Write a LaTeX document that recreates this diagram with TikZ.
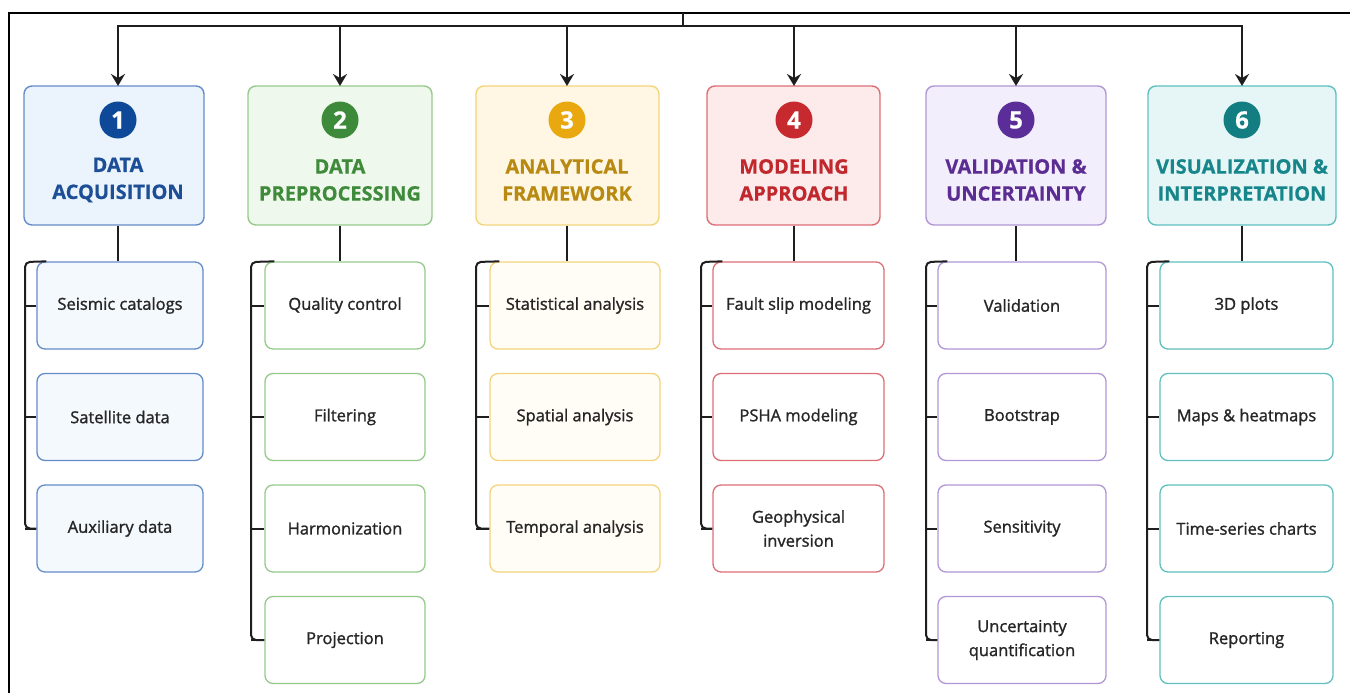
\documentclass[tikz,border=0pt]{standalone}
\usepackage{fontspec}
\setmainfont{Open Sans}[BoldFeatures={FakeBold=0.6}]
\newfontfamily\itemfont[FakeBold=1.3]{Open Sans}
\definecolor{ink1}{RGB}{14,72,152}
\definecolor{title1}{RGB}{29,79,150}
\definecolor{edge1}{RGB}{100,140,200}
\definecolor{tint1}{RGB}{235,243,252}
\definecolor{paper1}{RGB}{244,249,254}
\definecolor{ink2}{RGB}{60,138,58}
\definecolor{title2}{RGB}{63,139,59}
\definecolor{edge2}{RGB}{150,202,140}
\definecolor{tint2}{RGB}{238,248,236}
\definecolor{paper2}{RGB}{255,255,255}
\definecolor{ink3}{RGB}{233,168,15}
\definecolor{title3}{RGB}{185,138,18}
\definecolor{edge3}{RGB}{243,212,124}
\definecolor{tint3}{RGB}{255,247,228}
\definecolor{paper3}{RGB}{255,253,246}
\definecolor{ink4}{RGB}{198,42,47}
\definecolor{title4}{RGB}{192,40,45}
\definecolor{edge4}{RGB}{220,110,118}
\definecolor{tint4}{RGB}{253,235,236}
\definecolor{paper4}{RGB}{255,255,255}
\definecolor{ink5}{RGB}{90,45,152}
\definecolor{title5}{RGB}{91,44,145}
\definecolor{edge5}{RGB}{176,150,212}
\definecolor{tint5}{RGB}{243,238,251}
\definecolor{paper5}{RGB}{255,255,255}
\definecolor{ink6}{RGB}{19,126,130}
\definecolor{title6}{RGB}{23,134,139}
\definecolor{edge6}{RGB}{96,192,192}
\definecolor{tint6}{RGB}{230,246,246}
\definecolor{paper6}{RGB}{255,255,255}
\definecolor{wire}{RGB}{30,30,30}
\usetikzlibrary{arrows.meta,positioning,calc}

\begin{document}
\begin{tikzpicture}[x=1pt, y=-1pt,
    headbox/.style={draw, rounded corners=8pt, line width=1.4pt, minimum height=139pt},
    itembox/.style={draw, rounded corners=8pt, line width=1.3pt, minimum height=87pt, align=center,
        text=black!85, font=\itemfont\fontsize{16.5}{24}\selectfont},
    badge/.style={circle, minimum size=37pt, inner sep=0pt, text=white, font=\fontsize{24}{24}\selectfont\bfseries},
    headtitle/.style={align=center, font=\fontsize{20}{27}\selectfont\bfseries},
    link/.style={line width=2pt, draw=wire}]
    \useasboundingbox (0,0) rectangle (1350,693);
    % frame
    \draw[line width=2pt] (9,693) -- (9,13) -- (1350,13);
    \coordinate (root) at (683,13);
    \coordinate (hub) at (683,26);
    \draw[link] (root) -- (hub);
    % columns
    \foreach \i/\cx/\hl/\hr/\ttl/\n/\sl/\sr/\bx/\items in {
        1/118/24/204/{DATA\\ACQUISITION}/3/37/203/25/{Seismic catalogs,Satellite data,Auxiliary data},
        2/340/248/432/{DATA\\PREPROCESSING}/4/265/425/251/{Quality control,Filtering,Harmonization,Projection},
        3/567/476/659/{ANALYTICAL\\FRAMEWORK}/3/490/660/476/{Statistical analysis,Spatial analysis,Temporal analysis},
        4/794/707/880/{MODELING\\APPROACH}/3/713/884/701/{Fault slip modeling,PSHA modeling,Geophysical\\inversion},
        5/1016/926/1106/{VALIDATION \&\\UNCERTAINTY}/4/938/1106/926/{Validation,Bootstrap,Sensitivity,Uncertainty\\quantification},
        6/1242/1148/1336/{VISUALIZATION \&\\INTERPRETATION}/4/1160/1333/1147/{3D plots,Maps \& heatmaps,Time-series charts,Reporting}}
    {
        \pgfmathsetmacro\hw{\hr-\hl}
        \pgfmathsetmacro\hx{(\hl+\hr)/2}
        \node[headbox, draw=edge\i, fill=tint\i, minimum width=\hw pt] (head\i) at (\hx,155.5) {};
        \node[badge, fill=ink\i] (badge\i) at (\cx,120) {\i};
        \node[headtitle, text=title\i] (title\i) at (\cx,180) {\ttl};
        \coordinate (drop\i) at (\cx,86);
        \draw[link, -{Stealth[length=12pt, width=14pt, inset=4pt]}] (hub) -| (drop\i);
        \pgfmathsetmacro\mx{(\sl+\sr)/2}
        \pgfmathsetmacro\w{\sr-\sl}
        \foreach \t [count=\k] in \items {
            \node[itembox, draw=edge\i, fill=paper\i, minimum width=\w pt] (item\i-\k) at (\mx,{305.5+(\k-1)*111.5}) {\t};
        }
        \coordinate (spine\i) at (\bx,262);
        \draw[link] (drop\i |- head\i.south) -- (drop\i |- item\i-1.north);
        \draw[link, rounded corners=5pt] ($(item\i-1.north west)+(10,0)$) -- (spine\i) |- (item\i-\n.west);
        \foreach \k in {1,...,\n} {
            \draw[link] (spine\i |- item\i-\k.west) -- (item\i-\k.west);
        }
    }
\end{tikzpicture}
\end{document}
